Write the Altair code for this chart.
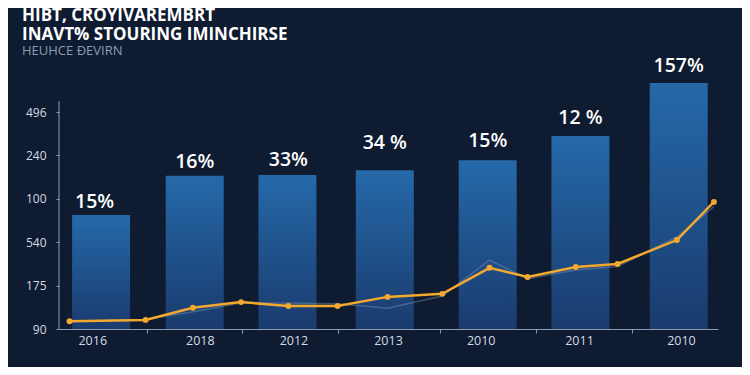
import altair as alt
import pandas as pd

years = ["2016", "2018", "2012", "2013", "2010", "2011", "2010"]
bar_pos = [0.40, 1.41, 2.41, 3.46, 4.57, 5.57, 6.63]
bar_values = [2.63, 3.53, 3.55, 3.66, 3.89, 4.45, 5.67]
bar_labels = ["15%", "16%", "33%", "34 %", "15%", "12 %", "157%"]
label_x = [0.33, 1.41, 2.42, 3.46, 4.57, 5.57, 6.63]
label_y = [2.93, 3.85, 3.89, 4.29, 4.33, 4.86, 6.06]
year_pos = [0.31, 1.47, 2.48, 3.50, 4.50, 5.56, 6.66]
tick_pos = [0.89, 1.92, 2.96, 4.06, 5.09, 6.13]
y_tick_labels = ["90", "175", "540", "100", "240", "496"]

line_x = [0.06, 0.88, 1.39, 1.91, 2.42, 2.95, 3.49, 4.08, 4.59, 5.00, 5.52, 5.97, 6.61, 7.01]
line_y = [0.18, 0.21, 0.49, 0.62, 0.53, 0.53, 0.74, 0.81, 1.41, 1.20, 1.43, 1.50, 2.05, 2.93]
shadow_y = [0.17, 0.22, 0.40, 0.60, 0.60, 0.58, 0.48, 0.76, 1.59, 1.16, 1.36, 1.44, 2.12, 2.82]

W, H = 659, 282
XS = alt.Scale(domain=[0, 7], nice=False, zero=False)
YS = alt.Scale(domain=[0, 6.5], nice=False)

bars_df = pd.DataFrame({"pos": bar_pos, "value": bar_values})
labels_df = pd.DataFrame({"x": label_x, "y": label_y, "label": bar_labels})
years_df = pd.DataFrame({"x": year_pos, "year": years})
line_df = pd.DataFrame({"x": line_x, "y": line_y, "s": shadow_y})

label_expr = "[" + ",".join('"%s"' % t for t in y_tick_labels) + "][datum.value]"

grad = alt.LinearGradient(
    gradient="linear",
    stops=[alt.GradientStop(color="#2569a9", offset=0),
           alt.GradientStop(color="#1a3b6e", offset=1)],
    x1=1, x2=1, y1=0, y2=1,
)

bars = alt.Chart(bars_df).mark_bar(size=58, color=grad).encode(
    x=alt.X("pos:Q", scale=XS,
            axis=alt.Axis(values=tick_pos, labels=False, title=None, grid=False,
                          tickSize=4, tickColor="#8d9ab0", domainColor="#8d9ab0",
                          domainWidth=1)),
    y=alt.Y("value:Q", scale=YS,
            axis=alt.Axis(values=[0, 1, 2, 3, 4, 5], labelExpr=label_expr, title=None,
                          grid=False, domain=False, tickSize=3, tickColor="#8d9ab0",
                          labelColor="#d4dbe6", labelFontSize=12, labelPadding=10,
                          labelFont="Open Sans")),
)

yrule = alt.Chart(pd.DataFrame({"a": [0]})).mark_rule(color="#8d9ab0", strokeWidth=1).encode(
    x=alt.value(0), y=alt.datum(0, scale=YS), y2=alt.datum(5.25)
)

shadow = alt.Chart(line_df).mark_line(color="#8a9ab5", strokeWidth=1.5, opacity=0.4).encode(
    x=alt.X("x:Q", scale=XS), y=alt.Y("s:Q", scale=YS)
)

line = alt.Chart(line_df).mark_line(
    color="#f2a92e", strokeWidth=2.5,
    point=alt.OverlayMarkDef(color="#f2a92e", size=35, filled=True),
).encode(x=alt.X("x:Q", scale=XS), y=alt.Y("y:Q", scale=YS))

texts = alt.Chart(labels_df).mark_text(
    color="white", fontSize=19.5, fontWeight=600, font="Open Sans", baseline="middle"
).encode(x=alt.X("x:Q", scale=XS), y=alt.Y("y:Q", scale=YS), text="label:N")

year_text = alt.Chart(years_df).mark_text(
    color="#d4dbe6", fontSize=12.5, font="Open Sans", baseline="middle"
).encode(x=alt.X("x:Q", scale=XS), y=alt.value(H + 12), text="year:N")

chart = alt.layer(bars, yrule, shadow, line, texts, year_text).properties(
    width=W, height=H,
    autosize=alt.AutoSizeParams(type="none"),
    padding={"left": 51, "top": 39, "right": 24, "bottom": 38},
    background="#0e1b30",
    title=alt.Title(
        text=["HIBT, CROYIVAREMBRT", "INAVT% STOURING IMINCHIRSE"],
        subtitle="HEUHCE ĐEVIRN",
        anchor="start", frame="group", dx=-37, offset=-12,
        font="Open Sans", fontSize=17, fontWeight="bold", color="white", lineHeight=19,
        subtitleFont="Open Sans", subtitleFontSize=13, subtitleColor="#8e9cb3",
        subtitlePadding=1,
    ),
).configure_view(stroke=None)

chart.save("out.html", embed_options={"renderer": "svg", "actions": False})
